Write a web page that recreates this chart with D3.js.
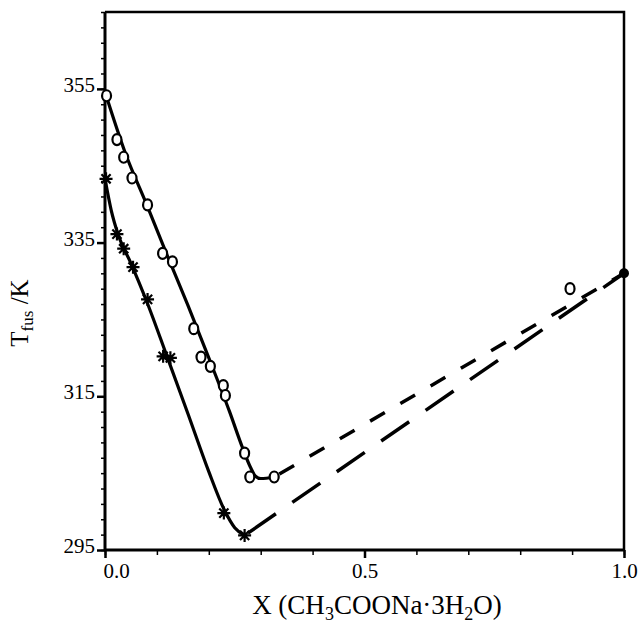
<!DOCTYPE html>
<html>
<head>
<meta charset="utf-8">
<script src="https://cdn.jsdelivr.net/npm/d3@7"></script>
<style>
  body { margin: 0; background: #fff; }
  text { font-family: "Liberation Serif", "Times New Roman", serif; fill: #000; }
</style>
</head>
<body>
<script>
var width = 640,
    height = 626;

// measured points, o
var circleX = [0.003, 0.023, 0.036, 0.052, 0.082, 0.111, 0.130, 0.171, 0.185, 0.203, 0.228, 0.232, 0.269, 0.279, 0.326, 0.896];
var circleT = [354.1, 348.4, 346.1, 343.4, 339.9, 333.6, 332.5, 323.8, 320.1, 318.9, 316.4, 315.1, 307.6, 304.5, 304.5, 329.0];

// measured points, *
var starX = [0.002, 0.023, 0.036, 0.054, 0.082, 0.112, 0.126, 0.229, 0.269];
var starT = [343.3, 336.1, 334.2, 331.8, 327.6, 320.2, 320.0, 299.8, 296.9];

// pure CH3COONa.3H2O
var pureX = [1.0];
var pureT = [331.0];

// fitted solid curves
var upperFitX = [0, 0.04, 0.08, 0.12, 0.16, 0.20, 0.24, 0.265, 0.28, 0.29, 0.30, 0.326];
var upperFitT = [354.6, 346.5, 340.0, 333.3, 326.8, 320.0, 313.0, 308.3, 305.8, 304.6, 304.3, 304.5];
var lowerFitX = [0, 0.012, 0.025, 0.05, 0.08, 0.12, 0.16, 0.20, 0.23, 0.25, 0.269];
var lowerFitT = [343.3, 339.2, 336.1, 332.3, 327.4, 320.1, 312.7, 305.2, 300.2, 297.9, 296.9];

// dashed lines to the pure salt
var upperDashX = [0.326, 1.0];
var upperDashT = [304.5, 331.0];
var lowerDashX = [0.269, 1.0];
var lowerDashT = [296.9, 331.0];

var yMajor = [295, 315, 335, 355];
var xMajor = [0.0, 0.5, 1.0];
var xMinor = d3.range(0, 1.0001, 0.1);
var yMinor = d3.range(295, 365.001, 2);

var mLeft = 105, mRight = 624, mTop = 12, mBottom = 550;

var xScale = d3.scaleLinear().domain([0, 1]).range([mLeft, mRight]);
var yScale = d3.scaleLinear().domain([295, 365]).range([mBottom, mTop]);

var svg = d3.select("body")
	.append("svg")
	.attr("width", width)
	.attr("height", height);

function zipPts(xs, ys) {
	return xs.map(function(d, i) { return [d, ys[i]]; });
}

// frame
svg.append("path")
	.attr("d", "M" + mLeft + "," + mTop + "H" + mRight + "V" + mBottom)
	.attr("fill", "none")
	.attr("stroke", "#000")
	.attr("stroke-width", 2.5);

// minor ticks
svg.append("g")
	.attr("transform", "translate(0," + mBottom + ")")
	.call(d3.axisBottom(xScale).tickValues(xMinor).tickSize(5).tickFormat(""))
	.call(function(g) { g.select(".domain").remove(); })
	.selectAll("line").attr("stroke-width", 1.5);

svg.append("g")
	.attr("transform", "translate(" + mLeft + ",0)")
	.call(d3.axisLeft(yScale).tickValues(yMinor).tickSize(4).tickFormat(""))
	.call(function(g) { g.select(".domain").remove(); })
	.selectAll("line").attr("stroke-width", 1.5);

// major ticks + labels
var xAxis = svg.append("g")
	.attr("transform", "translate(0," + mBottom + ")")
	.call(d3.axisBottom(xScale).tickValues(xMajor).tickSize(8).tickPadding(5).tickFormat(d3.format(".1f")));
xAxis.select(".domain").remove();
xAxis.selectAll("line").attr("stroke-width", 2.5);
xAxis.selectAll("text")
	.attr("font-size", 21)
	.attr("font-family", "Liberation Serif")
	.attr("dx", function(d) { return d === 0 ? 11 : 0; });

var yAxis = svg.append("g")
	.attr("transform", "translate(" + mLeft + ",0)")
	.call(d3.axisLeft(yScale).tickValues(yMajor).tickSize(8).tickPadding(2));
yAxis.select(".domain").remove();
yAxis.selectAll("line").attr("stroke-width", 2.5);
yAxis.selectAll("text")
	.attr("font-size", 21)
	.attr("font-family", "Liberation Serif")
	.attr("dy", "0.12em");

// axis lines
svg.append("line")
	.attr("x1", mLeft).attr("x2", mLeft).attr("y1", mTop).attr("y2", mBottom + 1)
	.attr("stroke", "#000").attr("stroke-width", 3);
svg.append("line")
	.attr("x1", mLeft - 1).attr("x2", mRight + 1).attr("y1", mBottom).attr("y2", mBottom)
	.attr("stroke", "#000").attr("stroke-width", 3);

// curves
var curve = d3.line()
	.x(function(d) { return xScale(d[0]); })
	.y(function(d) { return yScale(d[1]); })
	.curve(d3.curveMonotoneX);

var straight = d3.line()
	.x(function(d) { return xScale(d[0]); })
	.y(function(d) { return yScale(d[1]); });

svg.append("path")
	.attr("d", curve(zipPts(upperFitX, upperFitT)))
	.attr("fill", "none").attr("stroke", "#000").attr("stroke-width", 3.2);

svg.append("path")
	.attr("d", curve(zipPts(lowerFitX, lowerFitT)))
	.attr("fill", "none").attr("stroke", "#000").attr("stroke-width", 3.2);

svg.append("path")
	.attr("d", straight(zipPts(upperDashX, upperDashT)))
	.attr("fill", "none").attr("stroke", "#000").attr("stroke-width", 3.5)
	.attr("stroke-dasharray", "17,18")
	.attr("stroke-dashoffset", -6);

svg.append("path")
	.attr("d", straight(zipPts(lowerDashX, lowerDashT)))
	.attr("fill", "none").attr("stroke", "#000").attr("stroke-width", 3.5)
	.attr("stroke-dasharray", "34,20")
	.attr("stroke-dashoffset", -4);

// circle markers
svg.selectAll(".circ")
	.data(zipPts(circleX, circleT))
	.enter()
	.append("ellipse")
	.attr("class", "circ")
	.attr("cx", function(d) { return xScale(d[0]); })
	.attr("cy", function(d) { return yScale(d[1]); })
	.attr("rx", 4.5)
	.attr("ry", 5.5)
	.attr("fill", "#fff")
	.attr("stroke", "#000")
	.attr("stroke-width", 2.2);

// star markers
var starPath = "M-6.5,0H6.5M0,-6.5V6.5M-4.6,-4.6L4.6,4.6M-4.6,4.6L4.6,-4.6";
svg.selectAll(".star")
	.data(zipPts(starX, starT))
	.enter()
	.append("path")
	.attr("class", "star")
	.attr("transform", function(d) {
		return "translate(" + xScale(d[0]) + "," + yScale(d[1]) + ")";
	})
	.attr("d", starPath)
	.attr("fill", "none")
	.attr("stroke", "#000")
	.attr("stroke-width", 2.2);

// pure component
svg.selectAll(".pure")
	.data(zipPts(pureX, pureT))
	.enter()
	.append("circle")
	.attr("class", "pure")
	.attr("cx", function(d) { return xScale(d[0]); })
	.attr("cy", function(d) { return yScale(d[1]); })
	.attr("r", 5)
	.attr("fill", "#000");

// axis titles
var xt = svg.append("text")
	.attr("x", 377)
	.attr("y", 614)
	.attr("text-anchor", "middle")
	.attr("font-size", 27);
xt.append("tspan").text("X (CH");
xt.append("tspan").attr("font-size", 18).attr("dy", 6).text("3");
xt.append("tspan").attr("dy", -6).text("COONa\u00B73H");
xt.append("tspan").attr("font-size", 18).attr("dy", 6).text("2");
xt.append("tspan").attr("dy", -6).text("O)");

var yt = svg.append("text")
	.attr("transform", "translate(28,313) rotate(-90)")
	.attr("text-anchor", "middle")
	.attr("font-size", 25);
yt.append("tspan").text("T");
yt.append("tspan").attr("font-size", 17).attr("dy", 5).text("fus");
yt.append("tspan").attr("dy", -5).text(" /K");
</script>
</body>
</html>
